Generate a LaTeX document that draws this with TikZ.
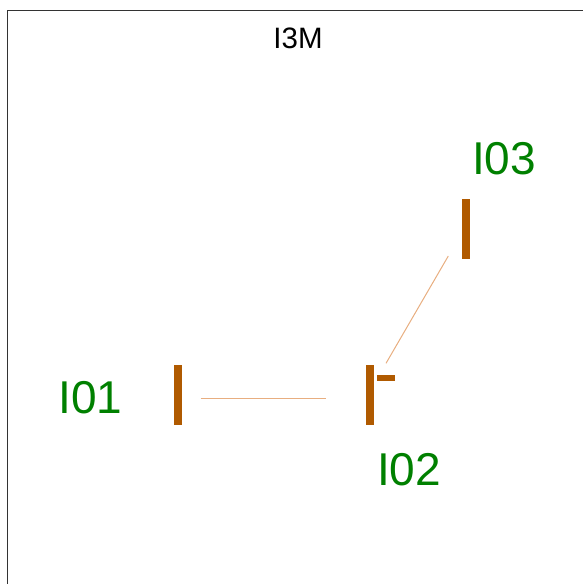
\documentclass[tikz,border=0pt]{standalone}
\usepackage{fontspec}
\setmainfont{Liberation Sans}
\definecolor{barc}{HTML}{B05A00}
\definecolor{linkc}{HTML}{E8AE80}
\definecolor{labc}{HTML}{008000}
\begin{document}
\begin{tikzpicture}[x=1bp,y=-1bp,
  bar/.style={fill=barc,draw=none,inner sep=0pt,minimum width=8bp,minimum height=60bp},
  tick/.style={fill=barc,draw=none,inner sep=0pt,minimum width=18bp,minimum height=6bp},
  link/.style={draw=linkc,line width=1bp},
  lab/.style={text=labc,anchor=base,inner sep=0pt,font=\fontsize{46bp}{50bp}\selectfont},
  ttl/.style={text=black,anchor=base,inner sep=0pt,font=\fontsize{29.5bp}{32bp}\selectfont}]
\useasboundingbox (0,0) rectangle (583,584);
\draw[line width=1bp,draw=black!80] (7.5,590) -- (7.5,11) -- (590,11);
\node[ttl] (title) at (298,48.3) {I3M};
\node[bar] (b1) at (178,395) {};
\node[bar] (b2) at (370,395) {};
\node[tick] (t2) at (386,378) {};
\node[bar] (b3) at (465.5,229) {};
\coordinate (l1a) at (200.7,398.3);
\coordinate (l1b) at (326,398.3);
\coordinate (l2a) at (448.3,256);
\coordinate (l2b) at (386,363.3);
\draw[link] (l1a) -- (l1b);
\draw[link] (l2a) -- (l2b);
\node[lab] (n1) at (90.5,413) {I01};
\node[lab] (n2) at (409,485) {I02};
\node[lab] (n3) at (504,175) {I03};
\end{tikzpicture}
\end{document}
